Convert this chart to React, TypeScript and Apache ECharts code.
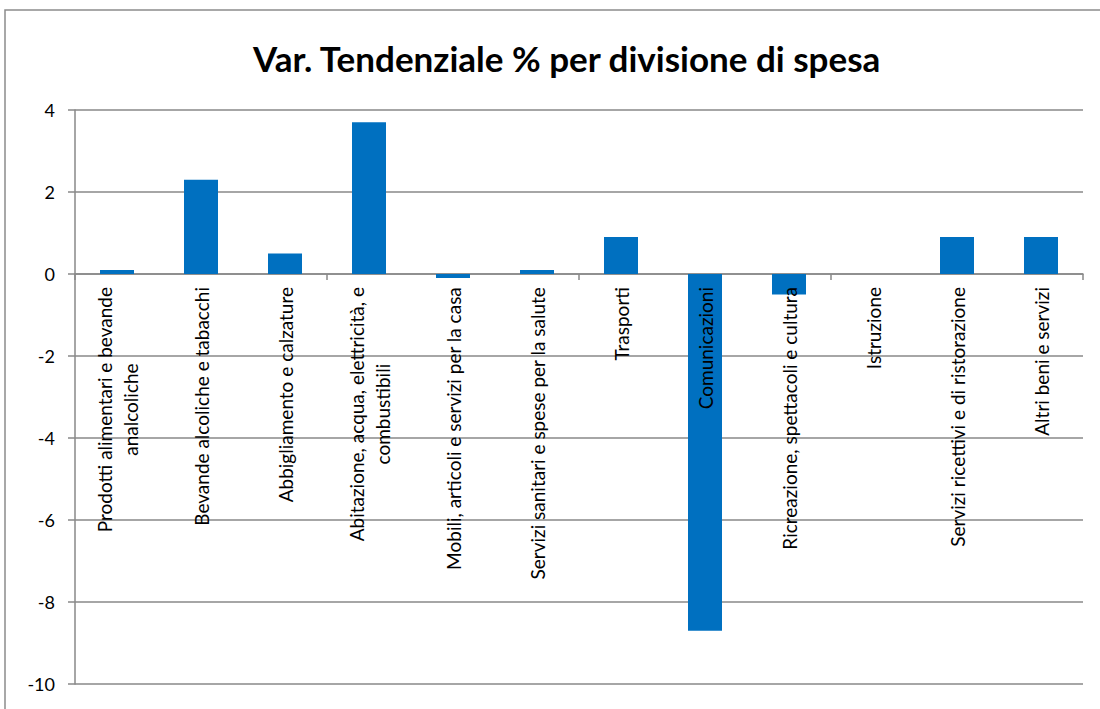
import React, { useEffect, useRef } from "react";
import * as echarts from "echarts";

const title = "Var. Tendenziale % per divisione di spesa";
const categories: string[][] = [
  ["Prodotti alimentari e bevande", "analcoliche"],
  ["Bevande alcoliche e tabacchi"],
  ["Abbigliamento e calzature"],
  ["Abitazione, acqua, elettricità, e", "combustibili"],
  ["Mobili, articoli e servizi per la casa"],
  ["Servizi sanitari e spese per la salute"],
  ["Trasporti"],
  ["Comunicazioni"],
  ["Ricreazione, spettacoli e cultura"],
  ["Istruzione"],
  ["Servizi ricettivi e di ristorazione"],
  ["Altri beni e servizi"],
];
const values: number[] = [0.1, 2.3, 0.5, 3.7, -0.1, 0.1, 0.9, -8.7, -0.5, 0, 0.9, 0.9];
const yMin = -10;
const yMax = 4;
const yStep = 2;

const FONT = "Lato, 'Noto Sans', sans-serif";
const W = 1100;
const H = 709;
const GRID = { left: 75, right: 17, top: 110, bottom: 25 };

export default function App() {
  const ref = useRef<HTMLDivElement>(null);
  useEffect(() => {
    document.body.style.margin = "0";
    const chart = echarts.init(ref.current!, undefined, { renderer: "svg" });
    const gridH = H - GRID.top - GRID.bottom;
    const zeroOffset = -gridH * (0 - yMin) / (yMax - yMin);
    const labels = categories.map((c) => c.join("\n"));
    chart.setOption({
      animation: false,
      backgroundColor: "#ffffff",
      title: {
        text: title,
        left: 248,
        top: 35,
        textStyle: { fontFamily: FONT, fontWeight: "bold", fontSize: 35, color: "#000" },
      },
      graphic: [
        {
          type: "rect",
          shape: { x: 5, y: 10, width: 1200, height: 800 },
          style: { fill: "none", stroke: "#8c8c8c", lineWidth: 1.5 },
          silent: true,
        },
      ],
      grid: { ...GRID, containLabel: false, outerBoundsMode: "none" },
      xAxis: [
        {
          type: "category",
          data: labels,
          axisLine: { onZero: true, lineStyle: { color: "#888", width: 1.5 } },
          axisTick: { show: true, length: 6, lineStyle: { color: "#888", width: 1.5 } },
          axisLabel: { show: false },
          splitLine: { show: false },
        },
        {
          type: "category",
          data: labels,
          position: "bottom",
          offset: zeroOffset,
          z: 10,
          axisLine: { show: false, onZero: false },
          axisTick: { show: false },
          axisLabel: {
            rotate: 90,
            margin: 13,
            interval: 0,
            fontFamily: FONT,
            fontSize: 19,
            color: "#000",
            lineHeight: 26,
            formatter: (v: string) =>
              v
                .split("\n")
                .map((l) => "{c|" + l + "}")
                .join("\n"),
            rich: { c: { align: "center", fontFamily: FONT, fontSize: 19, lineHeight: 26, color: "#000" } },
          },
          splitLine: { show: false },
        },
      ],
      yAxis: {
        type: "value",
        min: yMin,
        max: yMax,
        interval: yStep,
        axisLine: { show: true, lineStyle: { color: "#888", width: 1.5 } },
        axisTick: { show: true, length: 7, lineStyle: { color: "#888", width: 1.5 } },
        axisLabel: { fontFamily: FONT, fontSize: 18, color: "#000", margin: 20 },
        splitLine: { show: true, lineStyle: { color: "#888", width: 1.5 } },
      },
      series: [
        {
          type: "bar",
          data: values,
          barWidth: 34,
          z: 2,
          itemStyle: { color: "#0070C0" },
        },
      ],
    });
    return () => chart.dispose();
  }, []);
  return <div ref={ref} style={{ width: W, height: H }} />;
}
